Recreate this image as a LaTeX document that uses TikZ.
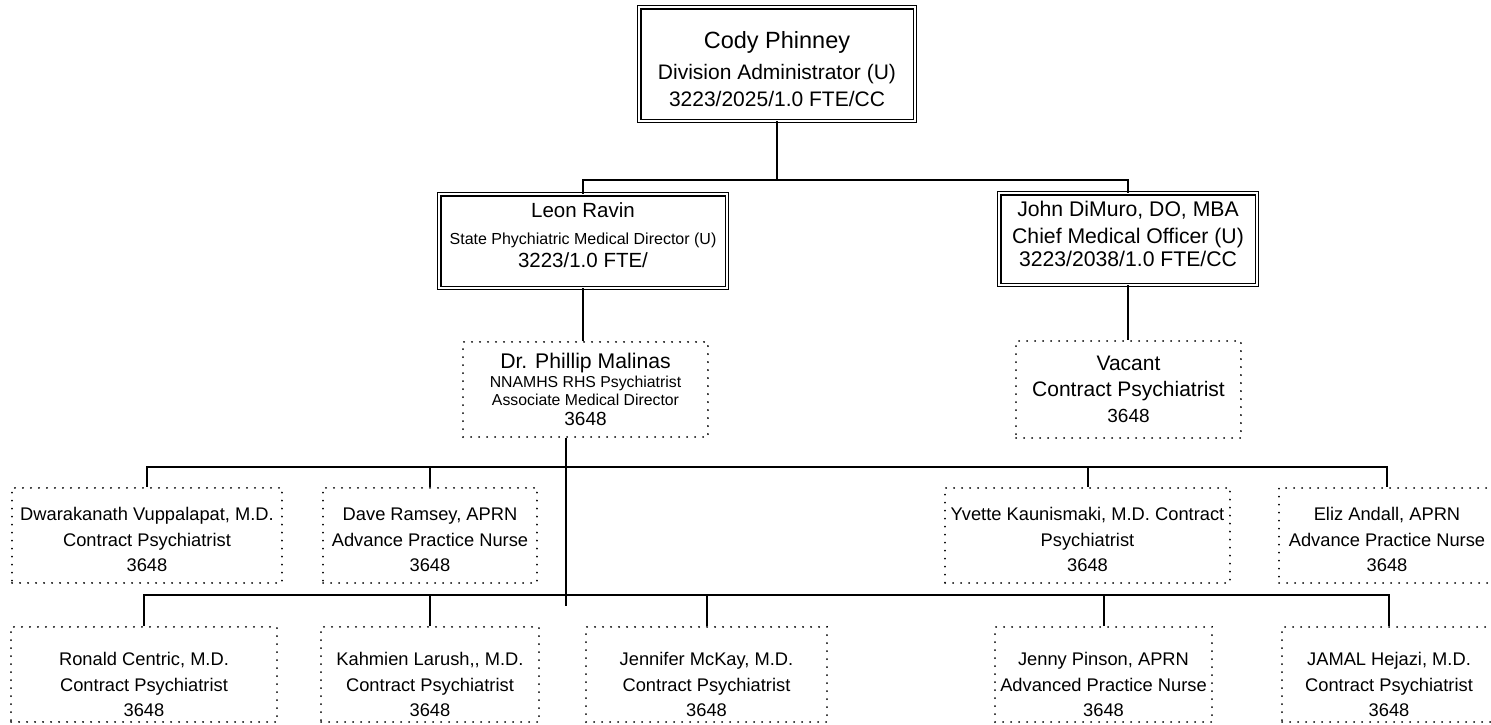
\documentclass[tikz,border=0pt]{standalone}
\usepackage{fontspec}
\setmainfont{Liberation Sans}
\usetikzlibrary{positioning}
\tikzset{
  dbox/.style = {draw, double, line width=1.2pt, double distance=2.2pt, align=center, inner sep=0pt},
  dotbox/.style = {draw, line width=2pt, dash pattern=on 0.01pt off 7.99pt, line cap=round, align=center, inner sep=0pt},
  link/.style = {line width=2pt}
}
\newcommand{\fs}[2]{\fontsize{#1}{#2}\selectfont}
% struts that push a text block down (top) or up (bottom)
\newcommand{\topstrut}[1]{\rule{0pt}{#1}}
\newcommand{\botstrut}[1]{\rule[-#1]{0pt}{#1}}

\begin{document}
\begin{tikzpicture}[x=1pt, y=-1pt]
  \useasboundingbox (0,0) rectangle (1491,724);
  % upper part
  \node[dbox, minimum width=275.6, minimum height=113.6, font=\fs{21}{26}] (A) at (777,64)
    {\topstrut{27pt}{\fs{23.5}{28}Cody Phinney}\\[5pt]Division Administrator (U)\\[1pt]3223/2025/1.0 FTE/CC};
  \node[dbox, minimum width=287.6, minimum height=93.6, font=\fs{20.5}{24}] (B1) at (583,241)
    {Leon Ravin\\[3pt]{\fs{16}{24}State Phychiatric Medical Director (U)}\\[-1pt]3223/1.0 FTE/\botstrut{11pt}};
  \node[dbox, minimum width=257.6, minimum height=91.6, font=\fs{21.2}{25}] (B2) at (1128,239)
    {John DiMuro, DO, MBA\\[2pt]Chief Medical Officer (U)\\[-2pt]3223/2038/1.0 FTE/CC\botstrut{10pt}};
  \node[dotbox, minimum width=245, minimum height=95, font=\fs{15.8}{18.5}] (C1) at (585.5,389.5)
    {{\fs{21.2}{23}Dr. Phillip Malinas}\\NNAMHS RHS Psychiatrist\\Associate Medical Director\\[1.5pt]{\fs{19}{18.5}3648}};
  \node[dotbox, minimum width=225, minimum height=97, font=\fs{21}{26}] (C2) at (1128.5,389.5)
    {Vacant\\Contract Psychiatrist\\{\fs{19}{26}3648}};
  % staff rows
  \begin{scope}[every node/.style = {dotbox, minimum height=95, font=\fs{18.3}{25.5}}]
    \foreach \n/\x/\w/\txt in {
      1/147/270/{Dwarakanath Vuppalapat, M.D.\\Contract Psychiatrist\\3648},
      2/430/214/{Dave Ramsey, APRN\\Advance Practice Nurse\\3648},
      3/1087.5/285/{Yvette Kaunismaki, M.D. Contract\\Psychiatrist\\3648},
      4/1387/216/{Eliz Andall, APRN\\Advance Practice Nurse\\3648}}{
      \node[minimum width=\w] (D\n) at (\x,535) {\topstrut{23pt}\txt};
    }
    \foreach \n/\x/\w/\txt in {
      1/144/266/{Ronald Centric, M.D.\\Contract Psychiatrist\\3648},
      2/430/218/{Kahmien Larush,{},{} M.D.\\Contract Psychiatrist\\3648},
      3/706.5/241/{Jennifer McKay, M.D.\\Contract Psychiatrist\\3648},
      4/1103.5/217/{Jenny Pinson, APRN\\Advanced Practice Nurse\\3648},
      5/1389/214/{JAMAL Hejazi, M.D.\\Contract Psychiatrist\\3648}}{
      \node[minimum width=\w] (E\n) at (\x,674.5) {\topstrut{34pt}\txt};
    }
  \end{scope}
  % connectors
  \coordinate (j1) at (777,180);
  \coordinate (spine) at (566,606);
  \coordinate (bus1) at (566,467);
  \coordinate (bus2) at (566,595);
  \draw[link] (A.south) -- (j1);
  \draw[link] (B1.north) |- (j1) -| (B2.north);
  \draw[link] (B1.south) -- (B1.south |- C1.north);
  \draw[link] (B2.south) -- (B2.south |- C2.north);
  \draw[link] (C1.south -| spine) -- (spine);
  \draw[link] (D1.north) |- (bus1) -| (D4.north);
  \foreach \n in {2, 3}{
    \draw[link] (D\n.north) -- (D\n.north |- bus1);
  }
  \draw[link] (E1.north) |- (bus2) -| (E5.north);
  \foreach \n in {2, 3, 4}{
    \draw[link] (E\n.north) -- (E\n.north |- bus2);
  }
\end{tikzpicture}
\end{document}
